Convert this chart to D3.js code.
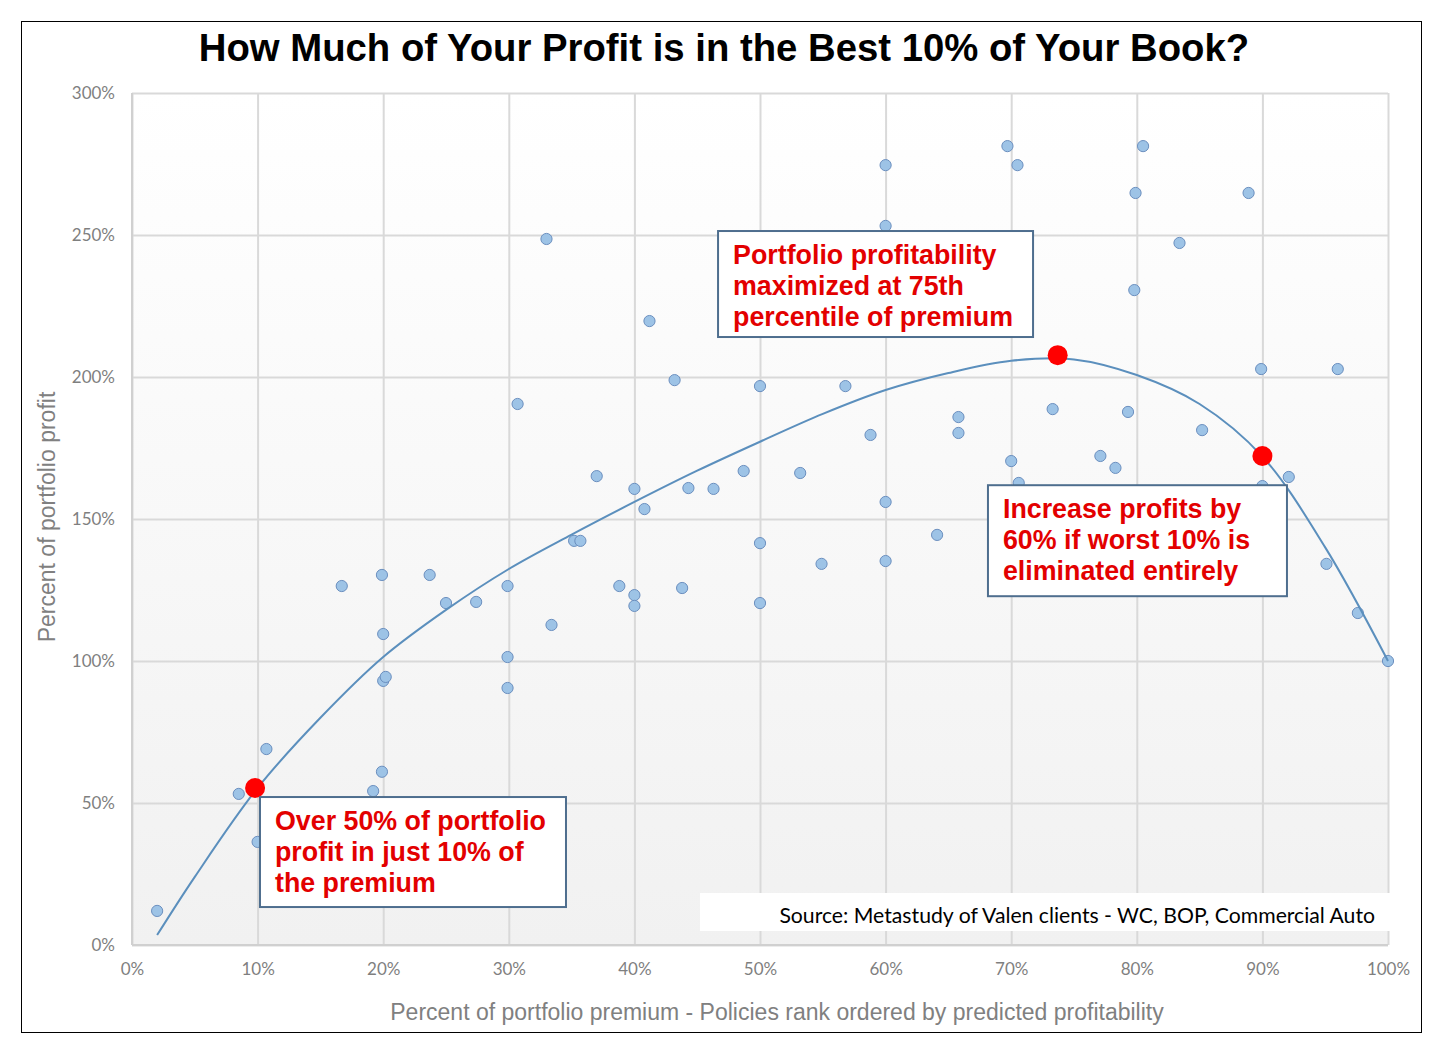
<!DOCTYPE html>
<html>
<head>
<meta charset="utf-8">
<script src="https://cdn.jsdelivr.net/npm/d3@7"></script>
<style>
html,body{margin:0;padding:0;background:#fff;}
svg{display:block;}
</style>
</head>
<body>
<svg id="chart" width="1443" height="1060"></svg>
<script>
// ---- data ----
const chartTitle = "How Much of Your Profit is in the Best 10% of Your Book?";
const xAxisTitle = "Percent of portfolio premium - Policies rank ordered by predicted profitability";
const yAxisTitle = "Percent of portfolio profit";
const sourceNote = "Source: Metastudy of Valen clients - WC, BOP, Commercial Auto";

const xTicks = [0,10,20,30,40,50,60,70,80,90,100];
const yTicks = [0,50,100,150,200,250,300];

// scatter: percent of premium (x) vs percent of profit (y)
const pointX = [2.0,8.5,10.0,10.7,16.7,19.9,20.0,20.0,20.2,19.9,19.2,23.7,25.0,27.4,29.9,29.9,29.9,30.7,33.0,33.4,
  35.2,35.7,37.0,38.8,40.0,40.0,40.0,40.8,41.2,43.2,43.8,44.3,46.3,48.7,50.0,50.0,50.0,53.2,54.9,56.8,
  58.8,60.0,60.0,60.0,60.0,64.1,65.8,65.8,69.7,70.0,70.5,70.6,73.3,77.1,78.3,79.3,79.8,79.9,80.5,83.4,
  85.2,88.9,89.9,90.0,92.1,95.1,96.0,97.6,100.0];
const pointY = [12.0,53.2,36.3,69.0,126.4,130.3,109.5,93.0,94.4,61.0,54.2,130.3,120.4,120.8,126.4,101.4,90.5,190.5,248.6,112.7,
  142.3,142.3,165.1,126.4,160.6,123.2,119.4,153.5,219.7,198.9,125.7,160.9,160.6,166.9,196.8,141.5,120.4,166.2,134.2,196.8,
  179.6,274.6,253.2,156.0,135.2,144.4,185.9,180.3,281.3,170.4,274.6,162.7,188.7,172.2,168.0,187.7,230.6,264.8,281.3,247.2,
  181.3,264.8,202.8,161.6,164.8,134.2,202.8,116.9,100.0];

// fitted trend curve
const trendX = [2,5,10,15,20,25,30,35,40,45,50,55,60,65,70,75,80,85,90,95,100];
const trendY = [3.5,24,55.3,80,101.4,118,132.4,144.5,156,167,177.2,187,195.4,201.4,205.7,206.2,200.7,190.5,172,140,100];

// highlighted points
const highlightX = [9.8,73.7,90.0];
const highlightY = [55.3,207.7,172.2];

// callouts
const calloutLines = [
  ["Portfolio profitability","maximized at 75th","percentile of premium"],
  ["Increase profits by","60% if worst 10% is","eliminated entirely"],
  ["Over 50% of portfolio","profit in just 10% of","the premium"]
];
// anchor (x%, y%) of each callout box's top-left corner
const calloutAnchorX = [46.66,68.15,10.19];
const calloutAnchorY = [251.4,161.9,52.1];

// ---- drawing ----
const svg = d3.select("#chart");
const x = d3.scaleLinear().domain([0,100]).range([132,1388]);
const y = d3.scaleLinear().domain([0,300]).range([945,93]);

svg.append("rect").attr("x",21.5).attr("y",21.5).attr("width",1400).attr("height",1011)
  .attr("fill","#fff").attr("stroke","#000").attr("stroke-width",1);

const defs = svg.append("defs");
const grad = defs.append("linearGradient").attr("id","bg").attr("x1",0).attr("y1",0).attr("x2",0).attr("y2",1);
grad.append("stop").attr("offset","0%").attr("stop-color","#ffffff");
grad.append("stop").attr("offset","100%").attr("stop-color","#f1f1f1");

svg.append("rect").attr("x",x(0)).attr("y",y(300)).attr("width",x(100)-x(0)).attr("height",y(0)-y(300))
  .attr("fill","url(#bg)");

// title
svg.append("text").attr("x",724).attr("y",61).attr("text-anchor","middle")
  .attr("font-family","Liberation Sans, Arial, sans-serif").attr("font-weight","bold")
  .attr("font-size",38.3).attr("fill","#000").text(chartTitle);

// grid via axes
const xGrid = svg.append("g").attr("transform",`translate(0,${y(0)})`)
  .call(d3.axisBottom(x).tickValues(xTicks).tickSize(-(y(0)-y(300))).tickFormat(""));
const yGrid = svg.append("g").attr("transform",`translate(${x(0)},0)`)
  .call(d3.axisLeft(y).tickValues(yTicks).tickSize(-(x(100)-x(0))).tickFormat(""));
[xGrid,yGrid].forEach(g=>{
  g.select(".domain").remove();
  g.selectAll("line").attr("stroke","#d9d9d9").attr("stroke-width",2);
});
// axis lines
svg.append("line").attr("x1",x(0)).attr("x2",x(0)).attr("y1",y(300)).attr("y2",y(0)).attr("stroke","#d0d0d0").attr("stroke-width",2);
svg.append("line").attr("x1",x(0)).attr("x2",x(100)).attr("y1",y(0)).attr("y2",y(0)).attr("stroke","#d0d0d0").attr("stroke-width",2);

// tick labels
const xLab = svg.append("g").attr("transform",`translate(0,${y(0)})`)
  .call(d3.axisBottom(x).tickValues(xTicks).tickSize(0).tickPadding(18).tickFormat(d=>d+"%"));
const yLab = svg.append("g").attr("transform",`translate(${x(0)},0)`)
  .call(d3.axisLeft(y).tickValues(yTicks).tickSize(0).tickPadding(17).tickFormat(d=>d+"%"));
[xLab,yLab].forEach(g=>{
  g.select(".domain").remove();
  g.selectAll("text").attr("font-family","Lato, 'Open Sans', sans-serif").attr("font-size",17).attr("fill","#7f7f7f");
});

// axis titles
svg.append("text").attr("x",777).attr("y",1020).attr("text-anchor","middle")
  .attr("font-family","Liberation Sans, Arial, sans-serif").attr("font-size",23).attr("fill","#808080").text(xAxisTitle);
svg.append("text").attr("transform","translate(55,517) rotate(-90)").attr("text-anchor","middle")
  .attr("font-family","Liberation Sans, Arial, sans-serif").attr("font-size",23).attr("fill","#808080").text(yAxisTitle);

// scatter points
const pts = pointX.map((v,i)=>({x:v,y:pointY[i]}));
svg.append("g").selectAll("circle").data(pts).join("circle")
  .attr("cx",d=>x(d.x)).attr("cy",d=>y(d.y)).attr("r",5.6)
  .attr("fill","#9dc3e6").attr("stroke","#6b8fbf").attr("stroke-width",1);

// trend line
const trend = trendX.map((v,i)=>({x:v,y:trendY[i]}));
svg.append("path").datum(trend)
  .attr("d",d3.line().x(d=>x(d.x)).y(d=>y(d.y)).curve(d3.curveCatmullRom.alpha(0.5)))
  .attr("fill","none").attr("stroke","#5b8fbd").attr("stroke-width",2);

// highlighted red dots
const hl = highlightX.map((v,i)=>({x:v,y:highlightY[i]}));
svg.append("g").selectAll("circle").data(hl).join("circle")
  .attr("cx",d=>x(d.x)).attr("cy",d=>y(d.y)).attr("r",10).attr("fill","#ff0000");

// callout boxes
const boxW = [315,299,306], boxH = [106,111,110];
calloutLines.forEach((lines,i)=>{
  const bx = x(calloutAnchorX[i]), by = y(calloutAnchorY[i]);
  const g = svg.append("g");
  g.append("rect").attr("x",bx).attr("y",by).attr("width",boxW[i]).attr("height",boxH[i])
    .attr("fill","#fff").attr("stroke","#4e6e8e").attr("stroke-width",2);
  g.selectAll("text").data(lines).join("text")
    .attr("x",bx+15).attr("y",(d,j)=>by+33+j*31)
    .attr("font-family","Liberation Sans, Arial, sans-serif").attr("font-weight","bold")
    .attr("font-size",26.8).attr("fill","#e30000").text(d=>d);
});

// source note
svg.append("rect").attr("x",700).attr("y",893).attr("width",690).attr("height",38).attr("fill","#fff");
svg.append("text").attr("x",1375).attr("y",923).attr("text-anchor","end")
  .attr("font-family","Lato, 'Open Sans', sans-serif").attr("font-size",21.2).attr("fill","#000").text(sourceNote);
</script>
</body>
</html>
